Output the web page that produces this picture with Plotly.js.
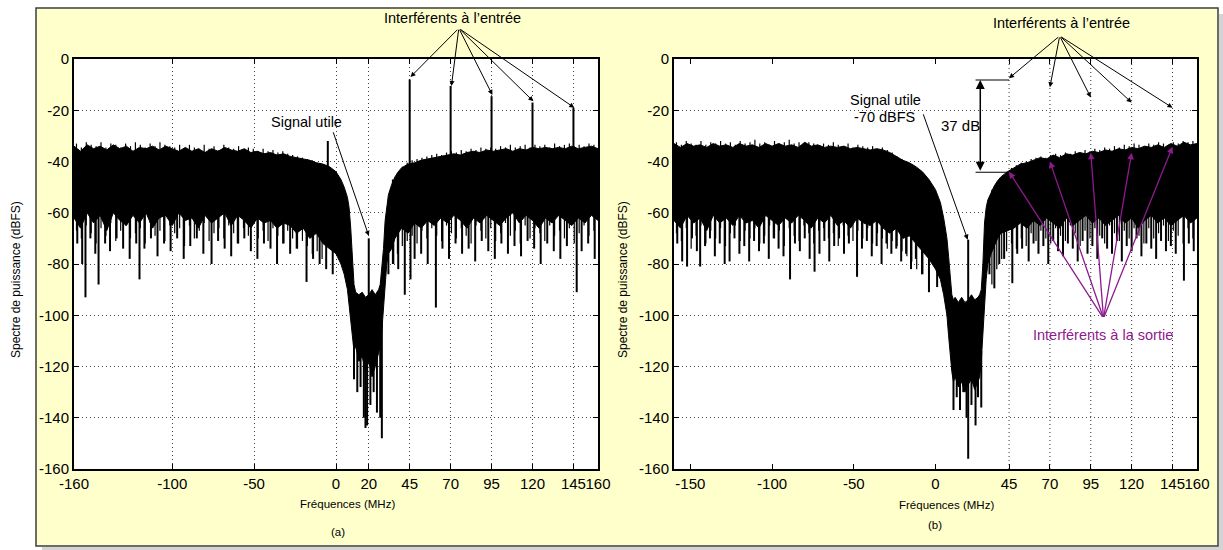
<!DOCTYPE html>
<html><head><meta charset="utf-8">
<script src="https://cdn.plot.ly/plotly-3.0.1.min.js"></script>
<style>html,body{margin:0;padding:0;background:#fff;}#chart{width:1223px;height:550px;}</style>
</head><body><div id="chart"></div>
<script>
// Frequency grid (MHz) shared by the envelope arrays
const freqs = [
  -160,-156,-152,-148,-144,-140,-136,-132,-128,-124,
  -120,-116,-112,-108,-104,-100,-96,-92,-88,-84,
  -80,-76,-72,-68,-64,-60,-56,-52,-48,-44,
  -40,-36,-32,-28,-24,-20,-16,-12,-8,-4,
  0,3,5,7,8,9,10,11,12,14,
  16,18,20,22,24,26,27,28,29,30,
  31,32,34,36,38,40,44,48,52,56,
  60,64,68,72,76,80,84,88,92,96,
  100,104,108,112,116,120,124,128,132,136,
  140,144,148,152,156,160];

// Panel (a): upper / lower edge of the dense noise floor (dBFS)
const topA = [
  -34,-36,-33.5,-35,-34,-35.5,-33.5,-35,-34,-36,
  -34.5,-35,-34,-35.5,-34,-35,-36,-34.5,-36,-35,
  -36.5,-35,-36,-34.5,-35.5,-36,-35,-36.5,-36,-37,
  -36.5,-37.5,-37,-38,-38.5,-39,-39.5,-40.5,-41,-42,
  -44,-47,-50,-54,-58,-66,-80,-88,-91,-92,
  -91,-93,-92,-90,-92,-90,-88,-82,-74,-63,
  -57,-53,-49,-46,-44,-42.5,-41,-40.5,-39.5,-39,
  -38.5,-38,-37.5,-37,-37.5,-36.5,-36,-36.5,-35.5,-36,
  -35.5,-35,-36,-35,-35.5,-34.5,-35,-34.5,-35,-34.5,
  -35,-34,-35,-34.5,-34,-35];
const botA = [
  -62,-66,-60,-64,-61,-67,-60,-63,-65,-61,
  -64,-60,-66,-62,-61,-65,-60,-63,-62,-66,
  -61,-64,-62,-60,-65,-61,-63,-66,-62,-64,
  -63,-66,-64,-65,-68,-66,-70,-68,-72,-74,
  -76,-80,-84,-90,-96,-104,-110,-114,-112,-118,
  -116,-122,-118,-124,-120,-115,-112,-106,-96,-86,
  -80,-76,-74,-70,-68,-66,-68,-64,-66,-63,
  -65,-62,-64,-61,-63,-66,-62,-64,-61,-63,
  -65,-62,-60,-64,-61,-63,-66,-62,-64,-61,
  -63,-65,-62,-64,-61,-63];
// Panel (a): isolated downward spikes
const downAx = [
  -158,-155,-153,-150,-147,-145,-141,-138,-134,-130,
  -126,-122,-120,-117,-113,-109,-105,-101,-97,-93,
  -89,-85,-81,-76,-72,-68,-64,-60,-56,-52,
  -48,-44,-40,-36,-32,-28,-24,-18,-14,-10,
  -6,-2,
  11,13,15,17,18,19,21,23,25,27,28,
  32,35,38,42,45.5,48,52,56,61,65,
  69,73,77,81,85,89,93,97,101,105,
  109,113,117,121,125,129,133,137,141,147,
  150,154,158];
const downAy = [
  -72,-80,-93,-70,-76,-88,-72,-75,-70,-74,
  -78,-72,-86,-74,-70,-77,-72,-75,-70,-78,
  -73,-70,-76,-80,-71,-74,-77,-72,-70,-75,
  -78,-72,-74,-80,-72,-76,-74,-87,-78,-80,
  -82,-84,
  -125,-130,-128,-140,-144,-143,-135,-130,-138,-140,-148,
  -84,-80,-82,-92,-86,-78,-76,-80,-97,-74,
  -78,-72,-76,-74,-79,-71,-75,-78,-72,-76,
  -73,-77,-71,-74,-80,-72,-75,-78,-73,-91,
  -75,-72,-78];
// Panel (a): upward lines (noise peak, useful signal, input interferers)
const upAx = [-5, 20, 45, 70, 95, 120, 145];
const upAy = [-32, -70, -8, -10.5, -14.5, -17, -19];

// Fine noise texture: positions of thin hairs (both panels)
const hairX = [
  -158.5,-155.5,-152.5,-149.5,-146.5,-143.5,-140.5,-137.5,-134.5,-131.5,
  -128.5,-125.5,-122.5,-119.5,-116.5,-113.5,-110.5,-107.5,-104.5,-101.5,
  -98.5,-95.5,-92.5,-89.5,-86.5,-83.5,-80.5,-77.5,-74.5,-71.5,
  -68.5,-65.5,-62.5,-59.5,-56.5,-53.5,-50.5,-47.5,-44.5,-41.5,
  -38.5,-35.5,-32.5,-29.5,-26.5,-23.5,-20.5,-17.5,-14.5,-11.5,
  -8.5,
  34.5,37.5,40.5,43.5,46.5,49.5,52.5,55.5,58.5,61.5,
  64.5,67.5,70.5,73.5,76.5,79.5,82.5,85.5,88.5,91.5,
  94.5,97.5,100.5,103.5,106.5,109.5,112.5,115.5,118.5,121.5,
  124.5,127.5,130.5,133.5,136.5,139.5,142.5,145.5,148.5,151.5,
  154.5,157.5];
const hairLowA = [
  -67,-70,-65,-68,-72,-66,-69,-64,-71,-67,
  -65,-70,-68,-66,-72,-64,-69,-67,-71,-65,
  -68,-66,-73,-65,-70,-67,-64,-71,-68,-66,
  -70,-65,-68,-72,-66,-69,-64,-70,-67,-71,
  -66,-69,-72,-67,-70,-74,-71,-73,-76,-75,
  -78,
  -80,-76,-73,-71,-69,-72,-67,-70,-66,-69,
  -71,-65,-68,-70,-66,-69,-72,-65,-67,-70,
  -66,-71,-68,-64,-69,-67,-72,-65,-70,-66,
  -68,-71,-65,-69,-67,-70,-66,-72,-68,-65,
  -69,-67];
const hairTopA = [
  -33,-34.5,-32.5,-33.5,-34,-32.5,-34.5,-33,-33.5,-34.5,
  -33,-34,-32.5,-33.5,-34.5,-33,-34,-32.5,-33.5,-34,
  -34.5,-33.5,-35,-33.5,-34.5,-35,-33.5,-35,-34,-35.5,
  -33.5,-34.5,-35,-34,-35.5,-34.5,-35,-36,-35,-36,
  -35.5,-36.5,-36,-37,-37.5,-38,-38.5,-39,-39.5,-40.5,
  -41,
  -47,-44.5,-42,-40.5,-39.5,-39,-38.5,-38,-37.5,-37,
  -37.5,-36.5,-36,-36.5,-35.5,-36,-35,-35.5,-34.5,-35,
  -34.5,-35,-34,-34.5,-33.5,-34.5,-34,-33.5,-34.5,-33.5,
  -34,-33.5,-34.5,-33,-34,-33.5,-33,-34,-33.5,-34,
  -33,-33.5];

// Panel (b)
const topB = [
  -33,-34.5,-33,-34,-33.5,-34.5,-33,-34,-33.5,-34.5,
  -33,-34,-33.5,-34.5,-33,-34,-33,-34,-33.5,-34.5,
  -32.5,-34,-33.5,-34.5,-34,-34.5,-34,-35,-34.5,-35,
  -35.5,-35,-35.5,-36.5,-38,-39.5,-40.5,-42,-44,-47,
  -51,-56,-62,-70,-77,-86,-92,-94,-93,-95,
  -93,-95,-94,-92,-94,-93,-92,-90,-80,-64,
  -58,-55,-52,-49.5,-47.5,-46,-44,-42.5,-41,-40.5,
  -39.5,-38.5,-39,-37.5,-38.5,-37,-37.5,-36.5,-37,-36,
  -36.5,-35.5,-36,-35,-35.5,-34.5,-35,-34,-34.5,-33.5,
  -34.5,-33,-34,-32.5,-33.5,-33];
const botB = [
  -63,-66,-61,-64,-62,-67,-61,-64,-62,-65,
  -61,-64,-63,-66,-61,-63,-65,-62,-64,-61,
  -63,-66,-62,-64,-61,-65,-63,-66,-62,-64,
  -65,-63,-66,-68,-66,-70,-69,-72,-75,-78,
  -82,-86,-92,-100,-108,-116,-122,-126,-124,-128,
  -126,-130,-127,-125,-129,-126,-124,-118,-106,-94,
  -86,-80,-76,-73,-70,-68,-67,-66,-64,-66,
  -63,-65,-62,-64,-66,-62,-65,-63,-61,-64,
  -62,-65,-63,-61,-64,-62,-66,-63,-61,-64,
  -62,-65,-63,-61,-64,-62];
const downBx = [
  -158,-155,-152,-149,-146,-144,-141,-138,-135,-132,
  -129,-126,-123,-120,-117,-114,-111,-108,-105,-102,
  -99,-96,-93,-89,-86,-83,-80,-77,-74,-71,
  -68,-65,-62,-59,-56,-53,-48,-45,-42,-39,
  -36,-33,-30,-27,-24,-21,-18,-15,-12,-8,
  -4,1,
  11,13,15,17,19,20,22,24.5,26,28,
  33,36,39,42,47,50,53,57,60,63,
  66,69,72,75,78,81,84,87,90,93,
  96,99,102,105,108,111,114,117,120,123,
  126,129,132,135,138,141,144,147,152,155,
  158];
const downBy = [
  -72,-79,-81,-70,-75,-81,-73,-70,-77,-72,
  -80,-79,-70,-76,-73,-79,-71,-75,-72,-78,
  -70,-74,-77,-86,-72,-75,-70,-78,-83,-76,
  -71,-79,-73,-70,-76,-72,-85,-74,-71,-77,
  -73,-80,-72,-76,-74,-79,-76,-82,-78,-84,
  -91,-89,
  -137,-132,-137,-130,-140,-156,-135,-143,-132,-136,
  -84,-89.5,-80,-78,-87.5,-76,-74,-79,-72,-76,
  -73,-80,-71,-75,-77,-72,-74,-79,-71,-76,
  -73,-78,-70,-74,-76,-71,-79,-73,-75,-70,
  -77,-72,-74,-78,-71,-75,-73,-76,-86.5,-72,
  -75];
const upBx = [20];
const upBy = [-70.5];
const hairLowB = [
  -68,-71,-66,-74,-69,-65,-72,-67,-70,-66,
  -73,-68,-65,-71,-67,-70,-66,-72,-69,-65,
  -70,-67,-73,-66,-69,-71,-65,-68,-72,-67,
  -66,-70,-68,-73,-65,-69,-71,-67,-70,-66,
  -72,-68,-70,-74,-71,-73,-75,-77,-79,-82,
  -84,
  -88,-82,-78,-75,-72,-74,-70,-73,-68,-71,
  -67,-70,-72,-66,-69,-71,-65,-68,-73,-67,
  -70,-66,-69,-72,-65,-68,-71,-67,-70,-66,
  -69,-72,-66,-70,-68,-65,-71,-67,-69,-72,
  -66,-70];
const hairTopB = [
  -32.5,-33.5,-32,-33,-33.5,-32,-33.5,-32.5,-33,-32,
  -33,-32.5,-33.5,-32,-33,-32.5,-31.5,-33,-32.5,-33.5,
  -32,-33,-32.5,-31.5,-33,-32.5,-33.5,-32.5,-33,-34,
  -33,-33.5,-32.5,-33.5,-34,-33,-34.5,-33.5,-34,-34.5,
  -34,-35,-34.5,-35.5,-36.5,-38,-39,-40.5,-41.5,-43,
  -45,
  -51,-48,-46,-44,-42.5,-41.5,-40.5,-40,-39,-38.5,
  -38,-38.5,-37.5,-37,-37.5,-36.5,-37,-36,-36.5,-35.5,
  -36,-35,-35.5,-34.5,-35,-34,-34.5,-33.5,-34,-33,
  -33.5,-34,-33,-33.5,-32.5,-33,-33.5,-32.5,-33,-32,
  -32.5,-32];

// Tick labels
const ticksA = [-160,-100,-50,0,20,45,70,95,120,145,160];
const ticksB = [-150,-100,-50,0,45,70,95,120,145,160];
const ticksY = [0,-20,-40,-60,-80,-100,-120,-140,-160];
const interfererFreqs = [45,70,95,120,145];
// Annotated levels
const inputLevelsA = [-7, -10.5, -14, -16.5, -19];
const inputLevelsB = [-7.5, -11, -15, -17, -19];
const outputLevelsB = [-44, -40, -36.6, -36.6, -34.2];
const dimTop = -8.2, dimBottom = -44.2;

const W = 1223, H = 550;
const px = x => x / W, py = y => 1 - y / H;
const FONT = 'Liberation Sans, Arial, Helvetica, sans-serif';

function envAt(xs, ys, f) {
  let best = 0;
  for (let i = 0; i < xs.length; i++) if (Math.abs(xs[i] - f) < Math.abs(xs[best] - f)) best = i;
  return ys[best];
}
function spikes(sx, sy, env, offset) {
  const X = [], Y = [];
  sx.forEach((f, i) => { X.push(f, f, null); Y.push(envAt(freqs, env, f) + offset, sy[i], null); });
  return {X, Y};
}
function seg(s, xa, ya, w) {
  return {x: s.X, y: s.Y, xaxis: xa, yaxis: ya, type: 'scatter', mode: 'lines', line: {color: '#000', width: w}, connectgaps: false};
}

function panelTraces(top, bot, dx, dy, ux, uy, hl, ht, xa, ya) {
  return [
    {x: freqs, y: bot, xaxis: xa, yaxis: ya, type: 'scatter', mode: 'lines', line: {color: '#000', width: 1}},
    {x: freqs, y: top, xaxis: xa, yaxis: ya, type: 'scatter', mode: 'lines', fill: 'tonexty', fillcolor: '#000', line: {color: '#000', width: 1}},
    seg(spikes(hairX, hl, bot, 3), xa, ya, 1.2),
    seg(spikes(hairX, ht, top, -3), xa, ya, 1.2),
    seg(spikes(dx, dy, bot, 4), xa, ya, 2),
    seg(spikes(ux, uy, top, -4), xa, ya, 2)
  ];
}

const data = [
  ...panelTraces(topA, botA, downAx, downAy, upAx, upAy, hairLowA, hairTopA, 'x', 'y'),
  ...panelTraces(topB, botB, downBx, downBy, upBx, upBy, hairLowB, hairTopB, 'x2', 'y2')
];

const dom = [py(469), py(59)];
const xBase = {
  range: [-160, 160], tickmode: 'array', ticks: 'inside', ticklen: 5, tickwidth: 1, tickcolor: '#000',
  showline: true, linecolor: '#000', linewidth: 2, mirror: 'ticks', zeroline: false, tickangle: 0,
  gridcolor: '#444', gridwidth: 1, griddash: '1px,3px',
  tickfont: {family: FONT, size: 15, color: '#000'}, fixedrange: true
};
const yBase = {
  range: [-160, 0], tickmode: 'array', tickvals: ticksY, ticktext: ticksY.map(String),
  ticks: 'inside', ticklen: 5, tickwidth: 1, tickcolor: '#000',
  showline: true, linecolor: '#000', linewidth: 2, mirror: 'ticks', zeroline: false,
  showgrid: true, gridcolor: '#444', gridwidth: 1, griddash: '1px,3px',
  tickfont: {family: FONT, size: 15, color: '#000'}, fixedrange: true
};

const shapes = [
  {type: 'rect', xref: 'paper', yref: 'paper', x0: 0, x1: 1, y0: py(8), y1: 1, fillcolor: '#fff', line: {width: 0}, layer: 'below'},
  {type: 'rect', xref: 'paper', yref: 'paper', x0: 0, x1: px(36), y0: 0, y1: 1, fillcolor: '#fff', line: {width: 0}, layer: 'below'},
  {type: 'rect', xref: 'paper', yref: 'paper', x0: px(1218), x1: 1, y0: 0, y1: 1, fillcolor: '#fff', line: {width: 0}, layer: 'below'},
  {type: 'rect', xref: 'paper', yref: 'paper', x0: 0, x1: 1, y0: 0, y1: py(546), fillcolor: '#fff', line: {width: 0}, layer: 'below'},
  {type: 'rect', xref: 'paper', yref: 'paper', x0: px(42), x1: px(1223), y0: 0, y1: py(547), fillcolor: '#d4d4d4', line: {width: 0}, layer: 'below'},
  {type: 'rect', xref: 'paper', yref: 'paper', x0: px(1219), x1: 1, y0: 0, y1: py(14), fillcolor: '#d4d4d4', line: {width: 0}, layer: 'below'},
  {type: 'rect', xref: 'paper', yref: 'paper', x0: px(36), x1: px(1218), y0: py(546), y1: py(8), fillcolor: 'rgba(0,0,0,0)', line: {color: '#3c3c3c', width: 1.5}, layer: 'below'},
  {type: 'line', xref: 'x2', yref: 'y2', x0: 24.5, x1: interfererFreqs[0], y0: dimTop, y1: dimTop, line: {color: '#000', width: 1.2}},
  {type: 'line', xref: 'x2', yref: 'y2', x0: 24.5, x1: interfererFreqs[0], y0: dimBottom, y1: dimBottom, line: {color: '#000', width: 1.2}}
];
interfererFreqs.forEach(f => shapes.push({
  type: 'line', xref: 'x2', yref: 'y2 domain', x0: f, x1: f, y0: 0, y1: 1,
  line: {color: '#333', width: 1, dash: '1px,3px'}, layer: 'below'
}));

const ann = [];
function text(t, x, y, size, color, extra) {
  ann.push(Object.assign({text: t, xref: 'paper', yref: 'paper', x: px(x), y: py(y), xanchor: 'center', yanchor: 'middle',
    showarrow: false, font: {family: FONT, size: size, color: color || '#000'}}, extra || {}));
}
function arrow(xr, yr, x, y, ax, ay, color, width, extra) {
  ann.push(Object.assign({text: '', xref: xr, yref: yr, axref: xr, ayref: yr, x: x, y: y, ax: ax, ay: ay,
    showarrow: true, arrowhead: 2, arrowsize: 1, arrowwidth: width || 1, arrowcolor: color || '#000', standoff: 0, startstandoff: 0}, extra || {}));
}

// Panel (a)
text('Interférents à l’entrée', 453, 18, 14.5);
interfererFreqs.forEach((f, i) => arrow('x', 'y', f + 0.5, inputLevelsA[i], 75, 12));
text('Signal utile', 306, 122, 14.5);
arrow('x', 'y', 20, -69, -2, -28);
text('Fréquences (MHz)', 347, 504, 11.5);
text('(a)', 338, 532, 11.5);
text('Spectre de puissance (dBFS)', 16, 280, 12, '#000', {textangle: -90});

// Panel (b)
text('Interférents à l’entrée', 1061, 23, 14.5);
interfererFreqs.forEach((f, i) => arrow('x2', 'y2', f, inputLevelsB[i], 76, 9));
text('Signal utile', 885, 100, 14.5);
text('-70 dBFS', 884, 117, 14.5);
arrow('x2', 'y2', 19.7, -70.5, -7.8, -21);
text('37 dB', 960, 125, 15);
arrow('x2', 'y2', 27.4, dimTop, 27.4, dimBottom, '#000', 1.5, {arrowside: 'end+start', arrowsize: 1.2});
interfererFreqs.forEach((f, i) => arrow('x2', 'y2', f, outputLevelsB[i], 102.8, -101.2, '#8e1a8e', 1.3));
text('Interférents à la sortie', 1103, 335, 14.5, '#8e1a8e');
text('Fréquences (MHz)', 946, 505, 11.5);
text('(b)', 935, 525, 11.5);
text('Spectre de puissance (dBFS)', 623, 280, 12, '#000', {textangle: -90});

const layout = {
  width: W, height: H, margin: {l: 0, r: 0, t: 0, b: 0, pad: 0},
  paper_bgcolor: '#ffffcc', plot_bgcolor: '#ffffff', showlegend: false, hovermode: false,
  font: {family: FONT, color: '#000'},
  xaxis: Object.assign({}, xBase, {domain: [px(74), px(598)], anchor: 'y', tickvals: ticksA, ticktext: ticksA.map(String), showgrid: true}),
  yaxis: Object.assign({}, yBase, {domain: dom, anchor: 'x'}),
  xaxis2: Object.assign({}, xBase, {domain: [px(674), px(1197)], anchor: 'y2', tickvals: ticksB, ticktext: ticksB.map(String), showgrid: false}),
  yaxis2: Object.assign({}, yBase, {domain: dom, anchor: 'x2'}),
  shapes: shapes, annotations: ann
};

Plotly.newPlot('chart', data, layout, {staticPlot: true, displayModeBar: false});
</script></body></html>
